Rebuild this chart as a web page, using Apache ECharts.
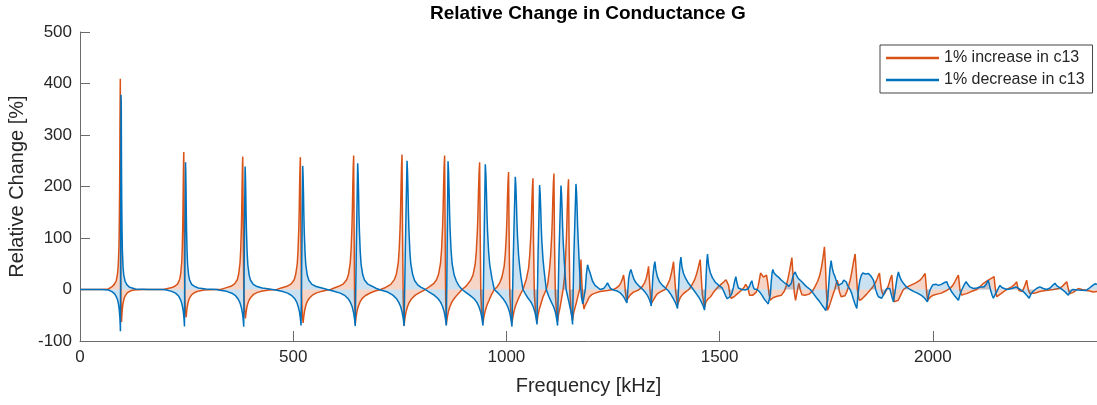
<!DOCTYPE html>
<html><head><meta charset="utf-8">
<script src="https://cdn.jsdelivr.net/npm/echarts@6/dist/echarts.min.js"></script>
<style>html,body{margin:0;padding:0;background:#fff}#c{width:1097px;height:405px}</style>
</head><body><div id="c"></div>
<script>
const chartTitle = 'Relative Change in Conductance G';
const xName = 'Frequency [kHz]';
const yName = 'Relative Change [%]';
const seriesNames = ['1% increase in c13', '1% decrease in c13'];
const xTicks = [0, 500, 1000, 1500, 2000];
const yTicks = [-100, 0, 100, 200, 300, 400, 500];

// [frequency kHz, relative change %]
const increasePts = [
[0,0],[50,0],[66.5,1],[74.5,5],[80.5,10],[85,17],[88.1,31],[89.7,47],[91.3,82],[92.1,123],[92.9,192],[93.3,245],[93.7,319],[94.5,409],[95.2,150],[96,-20],[97.5,-63],[97.9,-55],[98.3,-49],[99.1,-40],[100.3,-30],[101.9,-23],[103.9,-16],[107.1,-11],[111.5,-6],[117.5,-3],[125.5,-1],[150,0],
[195,0],[213.4,3.2],[222.4,6.4],[229,11],[233.8,20],[236.2,31],[238.6,53],[239.8,80],[241,125],[241.6,160],[242.2,208],[242.8,246],[243.4,267],[244.3,120],[245.5,-10],[247,-40],[249,-54],[249.6,-48],[250.2,-42],[251.4,-34],[253.2,-26],[255.6,-19],[258.6,-14],[263.4,-9],[270,-5.4],[279,-2.7],[291,-1],[320,0],
[330,0],[341.7,3.1],[353.7,6.2],[362.5,11],[368.9,19],[372.1,30],[375.3,52],[376.9,77],[378.5,121],[379.3,155],[380.1,201],[380.9,237],[381.7,258],[382.7,130],[384,0],[386,-40],[388,-56],[388.8,-49],[389.6,-44],[391.2,-35],[393.6,-27],[396.8,-20],[400.8,-15],[407.2,-9.5],[416,-5.6],[428,-2.8],[444,-1.1],[462,0],
[471.8,3.1],[485.3,6.2],[495.2,11],[502.4,19],[506,30],[509.6,51],[511.4,77],[513.2,121],[514.1,154],[515,200],[515.9,236],[516.8,257],[518,110],[519.5,-10],[521.5,-50],[523.2,-65],[524.1,-57],[525,-51],[526.8,-41],[529.5,-31],[533.1,-23],[537.6,-17],[544.8,-11],[554.7,-6.5],[568.2,-3.2],[580,-1],[588,0],
[596,3],[606.8,6.2],[617.8,11],[625.8,19.5],[629.8,30],[633.8,52],[635.8,78],[637.8,122],[638.8,156],[639.8,203],[640.8,239],[641.8,260],[642.8,120],[644,-20],[645.5,-68],[646.5,-60],[647.5,-53],[649.5,-43],[652.5,-33],[656.5,-24.5],[661.5,-17.7],[669.5,-11.6],[680.5,-6.8],[692,-3],[705,0],
[716.7,4],[728.8,10],[737.6,19.7],[742,30],[746.4,52],[748.6,79],[750.8,123],[751.9,157],[753,204],[754.1,241],[755.2,262],[756.3,120],[758,-20],[760,-70],[761.1,-62],[762.2,-55],[764.4,-44],[767.7,-34],[772.1,-25],[777.6,-18],[786.4,-11],[798.5,-5],[810,0],[822,7],[830,12],[836,19],[840.7,29],[845.5,51],[847.9,77],[850.3,121],[851.5,155],[852.7,202],[853.9,239],[855.1,260],[856.2,120],[857.5,-20],[859.1,-68],[860.3,-60],[861.5,-53],[863.9,-43],[867.5,-33],[872.3,-24],[878,-17],[886,-9],[896,0],
[906,7],[916.4,18.5],[921.6,28],[926.8,49],[929.4,74],[932,116],[933.3,148],[934.6,193],[935.9,227],[937.2,247],[938.5,110],[940,-10],[942,-45],[945,-66],[946.3,-58],[947.6,-51.5],[950.2,-41.6],[954.1,-31],[959.3,-21],[965,-10],[971.6,0],
[978,5],[984.3,13],[989.5,24],[994.7,45],[997.3,68],[999.9,107],[1001.2,137],[1002.5,178],[1003.8,210],[1005.1,228],[1006.4,100],[1008,-10],[1010.5,-45],[1013,-66],[1014.3,-58],[1015.6,-51],[1018.2,-41],[1022,-30],[1027,-20],[1033,-9],[1038.8,0],
[1046.7,20],[1051.9,41],[1054.5,65],[1057.1,102],[1058.4,130],[1059.7,168],[1061,199],[1062.3,216],[1063.6,90],[1065.5,-10],[1068.5,-45],[1071.7,-64],[1073,-56],[1074.3,-49],[1076.9,-39],[1080.8,-28],[1086,-14],[1093.5,0],
[1097,12],[1101.1,40],[1103.7,66],[1106.3,106],[1107.6,135],[1108.9,176],[1110.2,207],[1111.5,225],[1112.8,90],[1114.8,-10],[1117.5,-45],[1120,-62],[1121.3,-54],[1122.6,-47],[1125.2,-37],[1128,-24],[1131,-10],[1133,0],[1136,22],[1137.9,50],[1140.5,95],[1141.8,128],[1143.1,167],[1144.4,197],[1145.7,214],[1147,90],[1149,-10],[1152,-45],[1155.1,-60],[1156.4,-52],[1157.7,-46],[1160.3,-37],[1164,-26],[1168,-12],[1171.7,0],[1173.5,30],[1174.8,58],[1176.5,20],[1179,-20],[1182,-38],[1184,-32],[1188.9,-24],[1194,-15],[1200,-10],[1208,-7],[1220,-4],[1237,-2],
[1251,0],[1258,3],[1264,7],[1269,14],[1272.5,22],[1274.7,28],[1277,15],[1279,-5],[1282,-21],[1285,-17],[1290,-11],[1298,-5],[1310,-1],[1318,5],[1324,13],[1328,22],[1331,33],[1333.3,45],[1335.3,20],[1337.5,-10],[1340,-27],[1343,-24],[1347,-17],[1353,-9],[1362,-4],[1372,0],[1378,10],[1383,19],[1387,32],[1390,45],[1391.9,54],[1394,30],[1397,-5],[1401.3,-30],[1404,-24],[1408,-15],[1414,-9],[1421,-4],[1428,0],[1435,9],[1441,18],[1446,30],[1450,43],[1452.5,52],[1454.4,58],[1456.5,30],[1459.5,-10],[1464.6,-35],[1468,-24],[1473,-18],[1479,-14],[1486,-5],[1494,3],[1502,9],[1510,15],[1515,19],[1518.5,21],[1521,8],[1524,-10],[1527,-17],[1534,-14],[1542,-8],[1552,-1],[1558,5],[1561,10],[1563.8,13],[1566.5,3],[1570,-11],[1578,-11],[1586,-5],[1590,5],[1593,18],[1596,32],[1600,29],[1603,24],[1607,26],[1610,28],[1613,12],[1616,-10],[1618.5,-21],[1625,-16],[1635,-13],[1645,-11],[1652,-3],[1656,7],[1660,20],[1664,36],[1667,50],[1669.4,62],[1672,30],[1675,-5],[1678,-21],[1681,-8],[1684,6],[1686,12],[1689,0],[1693,-10],[1700,-11],[1710,-9],[1718,-3],[1724,6],[1730,16],[1735,28],[1739,44],[1742.5,62],[1745.8,83],[1748,50],[1750.5,-5],[1753,-40],[1756,-35],[1760,-25],[1765,-12],[1770,0],[1773,10],[1775.5,18],[1778,12],[1781,-5],[1785,-14],[1789,-17],[1794,-12],[1798,-5],[1802,5],[1806,18],[1809,30],[1812,44],[1815,58],[1817.8,69],[1820,40],[1823,0],[1826,-16],[1828,-21],[1833,-19],[1837,-17],[1845,-9],[1853,-1],[1859,5],[1864.6,12],[1869,20],[1872,27],[1874.9,32],[1877,15],[1880,-3],[1884,-11],[1888,-6],[1892,0],[1896,8],[1900,20],[1903.8,28],[1905.5,12],[1907,-8],[1909,-24],[1913,-23],[1919,-21],[1925,-10],[1931,0],[1940,5],[1950,9],[1960,13],[1970,18],[1976,24],[1981.9,31],[1984,12],[1986,-10],[1988,-21],[1994,-15],[2001,-11],[2010,-9],[2020,-7],[2030,-3],[2040,2],[2046,7],[2051.6,15],[2056,22],[2060,28],[2062,12],[2064,-3],[2068,-11],[2074,-9],[2079.6,-8],[2090,-4],[2103,0],[2110,5],[2118.7,12],[2128,17],[2136,21],[2143.6,25],[2145.5,10],[2147.5,-5],[2150,-14],[2155,-11],[2160,-8],[2173,0],[2185,5],[2192,10],[2196.7,15],[2199,5],[2202,-2],[2210,-4],[2215,6],[2220,18],[2222,8],[2225,-3],[2228,-8],[2232,-11],[2240,-7],[2250,-4],[2265,-2],[2283,0],[2295,2],[2302,5],[2308,10],[2314,15],[2316.5,6],[2319,-3],[2321,-8],[2328,-6],[2335,-2],[2341,2],[2350,0],[2360,-2],[2368,-3],[2376,-5],[2385,-4]
];

const decreasePts = [
[0,0],[50,0],[66.8,-1],[74.8,-4],[80.8,-8],[85.2,-14],[88.4,-21],[90.4,-29],[92,-39],[93.2,-51],[94,-63],[94.4,-71],[94.8,-81],[95.5,150],[96.2,378],[96.8,361],[97.4,227],[97.8,178],[98.6,113],[99.4,76],[101,43],[102.6,28],[105.8,16],[110.2,9],[116.2,4.5],[130,1],[160,0],
[195,0],[203,-1],[215,-3.6],[224,-7],[230.6,-12],[235.4,-19],[238.4,-26],[240.8,-35],[242.6,-45],[243.8,-56],[244.4,-63],[245,-72],[246.3,100],[247.5,247],[248.1,227],[248.7,193],[249.3,148],[249.9,116],[251.1,74],[252.3,49],[254.7,28],[257.1,18.5],[261.9,10],[268.5,6],[277.5,3],[295,1],[320,0],
[328,-1.4],[344,-3.6],[356,-7.2],[364.8,-12],[371.2,-19],[375.2,-26],[378.4,-35],[380.8,-45],[382.4,-56],[383.2,-63],[384,-72],[385.5,100],[387.2,239],[388,220],[388.8,186],[389.6,143],[390.4,112],[392,72],[393.6,48],[396.8,27.5],[400,18],[406.4,10],[415.2,5.7],[427.2,2.9],[440,1.5],[455,-0.5],
[473.4,-3.5],[486.9,-7],[496.8,-12],[503.9,-18],[508.5,-25],[512,-34],[514.8,-44],[516.6,-55],[517.5,-62],[518.4,-70],[520.5,90],[522.3,240],[523.2,221],[524.1,187],[525,144],[525.9,113],[527.7,72],[529.5,48],[533.1,27.6],[536.7,18],[543.9,10],[553.8,5.8],[567.3,2.9],[580,0],
[595.5,-3.5],[610.5,-7],[621.5,-12],[629.5,-18.5],[634.5,-25.6],[638.5,-34],[641.5,-45],[643.5,-55],[644.5,-62],[645.5,-71],[648,80],[651.2,245],[652.2,225],[653.2,191],[654.2,147],[655.2,115],[657.2,73.5],[659.2,49],[663.2,28],[667.2,18.4],[675.2,10.3],[686.2,5.9],[695,2],[705,-1],
[721.5,-5],[733.6,-11],[742.4,-18],[747.9,-25.5],[752.3,-34],[755.6,-45],[757.8,-55],[758.9,-62],[760,-71],[763,80],[766.9,250],[768,230],[769.1,195],[770.2,150],[771.3,117],[773.5,75],[775.7,50],[780.1,29],[785,17],[792,9],[800,4],[810,0],
[817.1,-4],[830.3,-11],[839.9,-18],[845.9,-25],[850.7,-34],[854.3,-44],[856.7,-55],[857.9,-62],[859.1,-70],[861,80],[863.1,249],[864.3,229],[865.5,194],[866.7,149],[867.9,117],[870.3,75],[872.7,50],[877.5,28],[882.3,17],[888,8],[896,0],
[904,-5],[913.8,-11],[924.2,-18],[930.7,-25],[935.9,-34],[939.8,-44],[942.4,-55],[943.7,-62],[945,-70],[947,60],[950.5,243],[951.8,224],[953.1,190],[954.4,146],[955.7,114],[958.3,73],[960.9,48],[966,22],[971.6,0],
[981.8,-8],[992.2,-18],[998.7,-26],[1003.9,-35],[1007.8,-45],[1010.4,-57],[1011.7,-64],[1013,-72],[1016,60],[1020.8,219],[1022.1,202],[1023.4,171],[1024.7,131],[1026,103],[1028.6,66],[1031.2,44],[1034,25],[1038.8,0],
[1044,-8],[1050.9,-17],[1057.4,-24],[1062.6,-33],[1066.5,-43],[1069.1,-53],[1070.4,-60],[1071.7,-68],[1074,60],[1077.8,203],[1079.1,187],[1080.4,158],[1081.7,122],[1083,95],[1085.6,61],[1088.2,38],[1091,18],[1093.5,0],
[1099.2,-13],[1105.7,-25],[1110.9,-34],[1114.8,-44],[1117.4,-55],[1118.7,-62],[1120,-70],[1123,60],[1127.9,202],[1129.2,186],[1130.5,157],[1131.8,121],[1133.1,94],[1135.7,55],[1138,25],[1140,0],
[1144,-15],[1147,-26],[1150,-38],[1152.5,-48],[1153.8,-56],[1155.1,-68],[1158,60],[1163.1,205],[1164.4,189],[1165.7,160],[1167,123],[1168.3,96],[1170.9,50],[1173,15],[1176,-15],[1179,-28],[1182.6,-31],[1185,0],[1187.5,30],[1190.3,48],[1193,40],[1196.6,31],[1202,16],[1208,8],
[1220,0],[1228,2],[1233,7],[1237,13],[1240,8],[1244,2],[1251,-1],[1260,-3],[1266,-6],[1272,-11],[1277,-17],[1280,-22],[1282.6,-26],[1284.5,-5],[1286.5,20],[1289,32],[1292,39],[1295,30],[1299,20],[1304,13],[1312,6],[1320,0],[1326,-6],[1331,-12],[1335,-19],[1338,-26],[1339.6,-32],[1341.5,-5],[1343.5,25],[1346,45],[1348.2,54],[1350.5,38],[1354,25],[1359,15],[1366,8],[1373,3],[1380,-3],[1386,-10],[1391,-17],[1396,-25],[1399,-31],[1401.3,-37],[1403,-10],[1405,25],[1407,50],[1409.2,63],[1411.5,45],[1415,32],[1420,22],[1427,12],[1434,5],[1440,-2],[1446,-9],[1452,-16],[1457,-24],[1461,-31],[1464.6,-40],[1466.5,-10],[1468.5,30],[1470,55],[1471.6,69],[1474,48],[1478,33],[1483,23],[1490,14],[1498,8],[1506,3],[1511,-6],[1515,-14],[1518,-18],[1520.8,-19],[1524,-14],[1528.6,-8],[1532,3],[1535,15],[1538,25],[1541,12],[1544,3],[1552,0],[1560,-1],[1566,1],[1570,6],[1573,13],[1575.6,17],[1578,8],[1581,1],[1588,0],[1594,-5],[1600,-12],[1605,-19],[1610,-24],[1614,-28],[1617,-30],[1619,-10],[1621,15],[1623,32],[1624.8,39],[1627,33],[1632,28],[1638,24],[1645,18],[1652,13],[1658,10],[1662,6],[1665.5,4],[1668,12],[1671,22],[1674,30],[1677.3,34],[1680,28],[1684,22],[1689,18],[1695,13],[1700.7,8],[1706,4],[1712.5,0],[1720,-8],[1728,-17],[1734,-23],[1739.7,-30],[1745,-36],[1749,-41],[1751.4,-43],[1753.5,-20],[1756,10],[1758.5,38],[1761.5,56],[1764,42],[1767,32],[1771,24],[1775,13],[1778.7,8],[1782.6,6],[1787,12],[1791,18],[1794.3,21],[1797,15],[1800,8],[1806,0],[1810,-8],[1813,-17],[1817,-27],[1821.7,-37],[1824,-15],[1826.5,5],[1829,18],[1832,27],[1835.8,32],[1842,30],[1849,31],[1855,26],[1860.7,18],[1864,8],[1866,0],[1869,-8],[1872.4,-14],[1876,-16],[1880,-17],[1884,-11],[1888,-4],[1892,2],[1895.8,5],[1899,2],[1902,-8],[1905,-17],[1907.7,-24],[1910,-12],[1913,5],[1916,22],[1919.3,34],[1922,26],[1926,18],[1931,12],[1938,5],[1946.7,0],[1956,-4],[1966,-8],[1974,-12],[1981,-17],[1987.3,-24],[1990,-12],[1993,-2],[1997,5],[2000,9],[2003,12],[2008,10],[2013,8],[2020,10],[2026,13],[2032.7,15],[2036,8],[2040,2],[2044.4,-5],[2050,-11],[2055,-16],[2060,-21],[2063,-12],[2066,-4],[2070,3],[2074,10],[2078,15],[2082,10],[2087,5],[2095,2],[2103,3],[2110.6,5],[2120,5],[2125,10],[2130,18],[2133,8],[2136,-3],[2139,-11],[2142,-17],[2146,-10],[2150,-4],[2154,3],[2157.6,8],[2162,4],[2173.3,0],[2185,2],[2195,5],[2205,0],[2212,-4],[2218,-9],[2222,-13],[2226,-17],[2230,-9],[2235,-4],[2243,2],[2251,5],[2259,2],[2267,0],[2275,3],[2281,8],[2286.5,12],[2291,7],[2300,2],[2308,-3],[2313,-7],[2317.7,-11],[2322,-5],[2327.5,0],[2340,-1],[2358.8,-2],[2366,2],[2372,6],[2376,8],[2380,11],[2385,10]
];

const FONT = '"Liberation Sans", Arial, Helvetica, sans-serif';
const TXT = '#262626';
const AX = '#6b6b6b';

const chart = echarts.init(document.getElementById('c'), null, {renderer: 'canvas'});
chart.setOption({
  animation: false,
  backgroundColor: '#fff',
  textStyle: {fontFamily: FONT},
  title: {
    text: chartTitle, left: 430, top: 4, padding: 0,
    textStyle: {fontSize: 19, fontWeight: 'bold', color: '#000', fontFamily: FONT}
  },
  legend: {
    data: seriesNames, orient: 'vertical', left: 880, top: 45,
    icon: 'rect', itemWidth: 53, itemHeight: 2.5, itemGap: 6,
    padding: [5, 8, 5, 6], borderColor: '#444', borderWidth: 1, borderRadius: 0,
    backgroundColor: '#fff',
    textStyle: {fontSize: 16, color: TXT, fontFamily: FONT}
  },
  grid: {left: 80, right: 0, top: 32, bottom: 64, containLabel: false, outerBoundsMode: 'none'},
  xAxis: {
    type: 'value', min: 0, max: 2385, interval: 500,
    name: xName, nameLocation: 'middle', nameGap: 35,
    nameTextStyle: {fontSize: 20, color: TXT, fontFamily: FONT},
    axisLine: {show: true, onZero: false, lineStyle: {color: AX, width: 1}},
    axisTick: {show: true, inside: true, length: 10, customValues: xTicks, lineStyle: {color: AX}},
    axisLabel: {customValues: xTicks, formatter: v => String(v), fontSize: 17, color: TXT, margin: 8, fontFamily: FONT},
    splitLine: {show: false}
  },
  yAxis: {
    type: 'value', min: -100, max: 500, interval: 100,
    name: yName, nameLocation: 'middle', nameGap: 50, nameRotate: 90,
    nameTextStyle: {fontSize: 20, color: TXT, fontFamily: FONT},
    axisLine: {show: true, onZero: false, lineStyle: {color: AX, width: 1}},
    axisTick: {show: true, inside: true, length: 10, customValues: yTicks, lineStyle: {color: AX}},
    axisLabel: {customValues: yTicks, formatter: v => String(v), fontSize: 17, color: TXT, margin: 8, fontFamily: FONT},
    splitLine: {show: false}
  },
  series: [
    {
      name: seriesNames[0], type: 'line', data: increasePts, symbol: 'none', showSymbol: false,
      sampling: null, clip: true, z: 2,
      itemStyle: {color: '#D95319'},
      lineStyle: {color: '#D95319', width: 1.5},
      areaStyle: {color: 'rgba(217,83,25,0.35)', origin: 0}
    },
    {
      name: seriesNames[1], type: 'line', data: decreasePts, symbol: 'none', showSymbol: false,
      sampling: null, clip: true, z: 3,
      itemStyle: {color: '#0072BD'},
      lineStyle: {color: '#0072BD', width: 1.5},
      areaStyle: {color: 'rgba(0,114,189,0.3)', origin: 0}
    }
  ]
});
</script>
</body></html>
